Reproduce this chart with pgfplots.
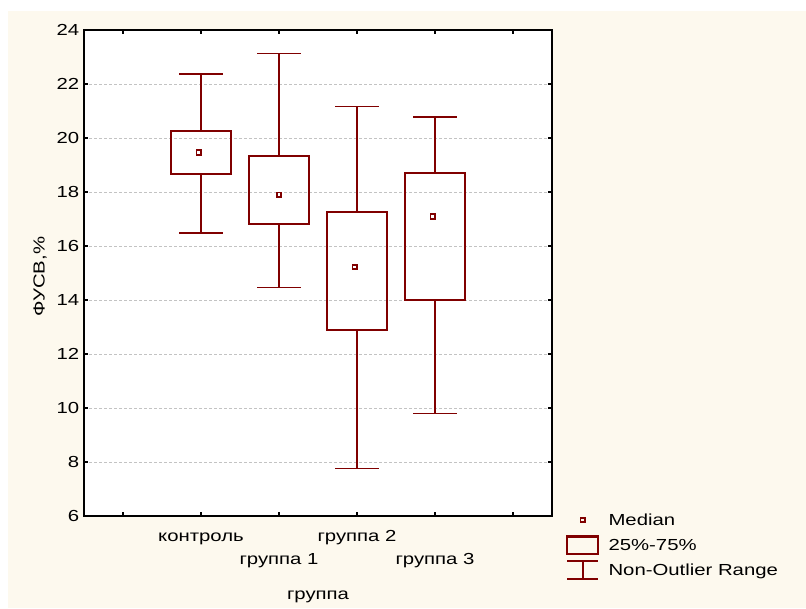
\documentclass[border=0pt]{standalone}
\usepackage{pgfplots}
\pgfplotsset{compat=1.18}
\usepackage{fontspec}
\setmainfont{Liberation Sans}[FakeStretch=1.27]
\definecolor{cream}{RGB}{253,249,238}
\definecolor{boxred}{RGB}{128,0,0}
\definecolor{gridgray}{RGB}{195,195,195}
\newcommand{\lbl}{\fontsize{12}{14}\selectfont}
\begin{document}
\begin{tikzpicture}
\fill[white] (0pt,0pt) rectangle (604.5pt,456pt);
\fill[cream] (6pt,0pt) rectangle (604.5pt,447.75pt);
\useasboundingbox (0pt,0pt) rectangle (604.5pt,456pt);
\begin{axis}[
  at={(63pt,69pt)}, anchor=south west,
  scale only axis, width=351pt, height=364.5pt,
  xmin=-0.5, xmax=5.5, ymin=6, ymax=24,
  axis background/.style={fill=white},
  axis line style={black, line width=1pt},
  tick align=inside,
  major tick length=3pt,
  tick style={black, line width=0.8pt},
  ytick={6,8,...,24},
  xtick={0,1,3,5},
  xticklabels={{},{контроль},{группа 2},{}},
  extra x ticks={2,4},
  extra x tick labels={{группа 1},{группа 3}},
  extra x tick style={xticklabel style={yshift=-17.25pt}},
  ymajorgrids,
  grid style={gridgray, line width=0.6pt, dash pattern=on 2.25pt off 1.5pt},
  /pgf/number format/assume math mode=true,
  ticklabel style={font=\lbl},
  xticklabel style={inner sep=0pt, text height=9pt, text depth=2.5pt, yshift=-9.9pt},
  xlabel={группа},
  ylabel={ФУСВ,\%},
  label style={font=\lbl},
  xlabel style={at={(axis description cs:0.5,-0.1728)}, anchor=base},
  ylabel style={at={(axis description cs:-0.094,0.4929)}, anchor=center},
  legend cell align=left,
  legend style={at={(1.0321,0.0047)}, anchor=north west, draw=none, fill=none,
    inner sep=0pt, outer sep=0pt, row sep=7.25pt, column sep=7.5pt,
    nodes={inner sep=0pt, outer sep=0pt, text height=9pt, text depth=2.5pt, font=\lbl}},
]
% whiskers: (x, lower/upper)
\addplot[boxred, forget plot, line width=1.1pt, unbounded coords=jump] coordinates {
 (1,20.26) (1,22.37) (1,nan) (0.72,22.37) (1.28,22.37) (1,nan)
 (1,18.68) (1,16.48) (1,nan) (0.72,16.48) (1.28,16.48)};
\addplot[boxred, forget plot, line width=1.1pt, unbounded coords=jump] coordinates {
 (2,19.32) (2,23.12) (2,nan) (1.72,23.12) (2.28,23.12) (2,nan)
 (2,16.80) (2,14.46) (2,nan) (1.72,14.46) (2.28,14.46)};
\addplot[boxred, forget plot, line width=1.1pt, unbounded coords=jump] coordinates {
 (3,17.26) (3,21.17) (3,nan) (2.72,21.17) (3.28,21.17) (3,nan)
 (3,12.88) (3,7.75) (3,nan) (2.72,7.75) (3.28,7.75)};
\addplot[boxred, forget plot, line width=1.1pt, unbounded coords=jump] coordinates {
 (4,18.69) (4,20.77) (4,nan) (3.72,20.77) (4.28,20.77) (4,nan)
 (4,14.01) (4,9.79) (4,nan) (3.72,9.79) (4.28,9.79)};
% boxes: 25%-75%
\addplot[boxred, forget plot, line width=1.6pt, line join=miter] coordinates {
 (0.61,18.68) (1.39,18.68) (1.39,20.26) (0.61,20.26) (0.61,18.68) (1.39,18.68)};
\addplot[boxred, forget plot, line width=1.6pt, line join=miter] coordinates {
 (1.61,16.80) (2.39,16.80) (2.39,19.32) (1.61,19.32) (1.61,16.80) (2.39,16.80)};
\addplot[boxred, forget plot, line width=1.6pt, line join=miter] coordinates {
 (2.61,12.88) (3.39,12.88) (3.39,17.26) (2.61,17.26) (2.61,12.88) (3.39,12.88)};
\addplot[boxred, forget plot, line width=1.6pt, line join=miter] coordinates {
 (3.61,14.01) (4.39,14.01) (4.39,18.69) (3.61,18.69) (3.61,14.01) (4.39,14.01)};
% medians
\addplot[boxred, forget plot, only marks, mark=square, mark size=1.7pt, line width=1.3pt] coordinates {(0.97,19.46) (2,17.90) (2.97,15.22) (3.97,17.09)};
\addlegendimage{legend image code/.code={\path (0pt,0pt) (23.25pt,0pt); \draw[overlay, boxred, line width=1.3pt] (9.9pt,-0.7pt) rectangle (13.3pt,2.7pt);}}
\addlegendentry{Median}
\addlegendimage{legend image code/.code={\path (0pt,0pt) (23.25pt,0pt); \draw[overlay, boxred, line width=1.6pt] (0pt,-5.4pt) rectangle (23.25pt,7.4pt);}}
\addlegendentry{25\%-75\%}
\addlegendimage{legend image code/.code={\path (0pt,0pt) (23.25pt,0pt); \draw[overlay, boxred, line width=1.2pt] (0pt,7.75pt) -- (23.25pt,7.75pt) (11.6pt,7.75pt) -- (11.6pt,-5.75pt) (0pt,-5.75pt) -- (23.25pt,-5.75pt);}}
\addlegendentry{Non-Outlier Range}
\end{axis}
\end{tikzpicture}
\end{document}
